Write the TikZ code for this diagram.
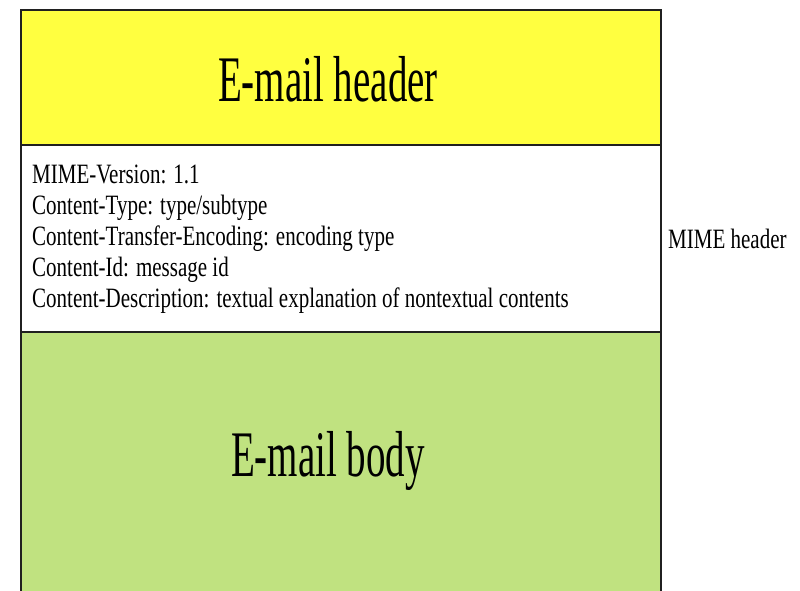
\documentclass[tikz,border=0pt]{standalone}
\usepackage{fontspec}
\setmainfont{Liberation Serif}
\newfontfamily\narrowserif[FakeStretch=0.60]{Liberation Serif}
\newfontfamily\fieldserif[FakeStretch=0.75]{Liberation Serif}
\definecolor{hdryellow}{HTML}{FFFF40}
\definecolor{bodygreen}{HTML}{C0E280}
\definecolor{edge}{HTML}{202020}
\begin{document}
\begin{tikzpicture}[x=1pt,y=-1pt,
  part/.style={draw=edge,line width=2pt,inner sep=0pt,anchor=north west,minimum width=640pt},
  bigtext/.style={font=\narrowserif\fontsize{65}{70}\selectfont,inner sep=0pt},
  fieldtext/.style={font=\fieldserif\fontsize{28}{31}\selectfont,inner sep=0pt,align=left,anchor=base west}]
  \useasboundingbox (0,0) rectangle (800,591);
  \clip (0,0) rectangle (800,591);
  % the three stacked parts of the message
  \node[part,fill=hdryellow,minimum height=135pt] (hdr) at (20,9) {};
  \node[part,fill=white,minimum height=187pt] (mime) at (20,144) {};
  \node[part,fill=bodygreen,minimum height=280pt] (body) at (20,331) {};
  % labels (a multi-line node sits on the baseline of its last line)
  \node[bigtext,anchor=base] (hdrlabel) at (328,102) {E-mail header};
  \node[bigtext,anchor=base] (bodylabel) at (328,476) {E-mail body};
  \node[fieldtext] (fields) at (32,307) {MIME-Version: 1.1\\
    Content-Type: type/subtype\\
    Content-Transfer-Encoding: encoding type\\
    Content-Id: message id\\
    Content-Description: textual explanation of nontextual contents};
  \node[fieldtext] (mimelabel) at (668,248) {MIME header};
\end{tikzpicture}
\end{document}
